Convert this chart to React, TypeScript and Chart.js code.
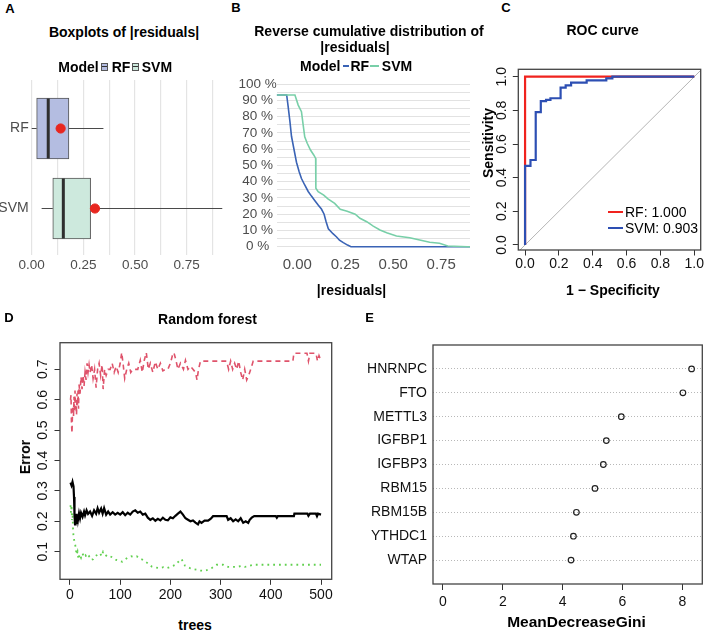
import React, { useEffect, useRef } from 'react';
import { Chart, registerables } from 'chart.js';

Chart.register(...registerables);

const FONT = '"Liberation Sans", Arial, Helvetica, sans-serif';

// ---------------- Panel A: boxplots of |residuals| ----------------
const boxModels = ['RF', 'SVM'];
const boxMin = [0.0, 0.048];
const boxQ1 = [0.024, 0.102];
const boxMedian = [0.08, 0.153];
const boxQ3 = [0.18, 0.285];
const boxMax = [0.347, 0.922];
const boxMean = [0.14, 0.306];
const boxFill = ['#b4bde1', '#cde9dd'];
const boxTickValues = [0, 0.125, 0.25, 0.375, 0.5, 0.625, 0.75, 0.875];

// ---------------- Panel B: reverse cumulative distribution ----------------
const ecdfRfX = [-0.107, -0.055, -0.047, -0.038, -0.03, -0.017, -0.004, 0.01, 0.022, 0.039, 0.057, 0.075, 0.091, 0.11, 0.126, 0.14, 0.15, 0.162, 0.186, 0.205, 0.22, 0.24, 0.262, 0.28, 0.9];
const ecdfRfY = [0.934, 0.934, 0.86, 0.77, 0.68, 0.6, 0.52, 0.462, 0.42, 0.38, 0.34, 0.31, 0.285, 0.255, 0.232, 0.2, 0.155, 0.11, 0.08, 0.06, 0.04, 0.025, 0.01, 0.0, 0.0];
const ecdfSvmX = [-0.107, -0.012, 0.005, 0.022, 0.031, 0.039, 0.052, 0.069, 0.086, 0.096, 0.097, 0.109, 0.138, 0.16, 0.195, 0.224, 0.26, 0.302, 0.327, 0.362, 0.396, 0.431, 0.466, 0.517, 0.586, 0.638, 0.69, 0.741, 0.784, 0.886, 0.9];
const ecdfSvmY = [0.934, 0.934, 0.872, 0.831, 0.749, 0.677, 0.637, 0.595, 0.565, 0.544, 0.36, 0.339, 0.318, 0.294, 0.267, 0.23, 0.218, 0.2, 0.175, 0.154, 0.127, 0.103, 0.086, 0.066, 0.055, 0.041, 0.027, 0.021, 0.004, 0.0, 0.0];
const pctTicks = [0, 0.05, 0.1, 0.15, 0.2, 0.25, 0.3, 0.35, 0.4, 0.45, 0.5, 0.55, 0.6, 0.65, 0.7, 0.75, 0.8, 0.85, 0.9, 0.95, 1.0];
const residTicks = [0, 0.25, 0.5, 0.75];

// ---------------- Panel C: ROC curve ----------------
const rocRfFpr = [0, 0, 1];
const rocRfTpr = [0, 1, 1];
const rocSvmFpr = [0, 0, 0.032, 0.063, 0.093, 0.124, 0.15, 0.21, 0.24, 0.272, 0.364, 0.48, 0.516, 0.728, 1];
const rocSvmTpr = [0, 0.115, 0.47, 0.505, 0.79, 0.855, 0.862, 0.872, 0.935, 0.948, 0.965, 0.978, 0.99, 1, 1];
const rocNames = ['RF', 'SVM'];
const rocAuc = [1.0, 0.903];
const rocColors = ['#f0231e', '#2d4fb3'];
const rocTicks = [0, 0.2, 0.4, 0.6, 0.8, 1.0];
const rocXRange = [-0.04, 1.038];
const rocYRange = [-0.03, 1.044];

// ---------------- Panel D: random forest error ----------------
const oobErr = [[1,0.327],[3,0.318],[5,0.33],[7,0.315],[8,0.28],[9,0.22],[10,0.19],[11,0.215],[12,0.198],[13,0.225],[14,0.195],[15,0.22],[16,0.205],[18,0.226],[20,0.21],[22,0.228],[25,0.215],[28,0.232],[30,0.22],[33,0.236],[36,0.224],[40,0.232],[44,0.218],[48,0.236],[52,0.225],[55,0.243],[58,0.228],[62,0.242],[65,0.225],[68,0.243],[72,0.222],[76,0.232],[80,0.222],[85,0.23],[90,0.222],[95,0.228],[100,0.222],[105,0.23],[110,0.22],[115,0.228],[120,0.222],[125,0.232],[130,0.236],[135,0.228],[140,0.232],[145,0.222],[150,0.225],[155,0.212],[160,0.205],[165,0.21],[170,0.202],[175,0.208],[180,0.203],[185,0.212],[190,0.205],[195,0.203],[200,0.213],[205,0.21],[210,0.218],[215,0.225],[220,0.232],[225,0.222],[230,0.21],[235,0.205],[240,0.2],[245,0.203],[250,0.196],[255,0.19],[258,0.2],[262,0.195],[268,0.202],[275,0.202],[280,0.208],[285,0.217],[312,0.217],[315,0.205],[320,0.21],[325,0.2],[330,0.206],[335,0.2],[340,0.21],[345,0.195],[350,0.2],[355,0.195],[358,0.205],[362,0.212],[367,0.217],[410,0.217],[412,0.212],[414,0.217],[446,0.217],[447,0.225],[473,0.225],[475,0.218],[478,0.225],[490,0.225],[492,0.217],[494,0.225],[500,0.222]];
const class1Err = [[1,0.6],[2,0.615],[3,0.52],[4,0.49],[5,0.56],[6,0.58],[7,0.545],[8,0.61],[9,0.56],[10,0.63],[11,0.57],[12,0.6],[13,0.55],[14,0.62],[15,0.58],[16,0.63],[17,0.57],[18,0.65],[20,0.62],[22,0.675],[24,0.635],[26,0.68],[28,0.645],[30,0.69],[32,0.665],[34,0.72],[36,0.69],[38,0.715],[40,0.69],[43,0.715],[46,0.67],[49,0.7],[52,0.64],[55,0.7],[58,0.72],[61,0.68],[64,0.715],[66,0.635],[69,0.7],[72,0.68],[76,0.7],[80,0.7],[84,0.72],[88,0.69],[92,0.71],[96,0.69],[100,0.72],[103,0.755],[106,0.715],[109,0.67],[113,0.7],[117,0.72],[121,0.69],[125,0.7],[130,0.7],[135,0.7],[140,0.73],[144,0.69],[148,0.73],[152,0.755],[156,0.7],[160,0.72],[165,0.69],[170,0.725],[175,0.7],[180,0.72],[185,0.695],[190,0.7],[195,0.7],[200,0.72],[204,0.745],[207,0.755],[211,0.73],[215,0.7],[220,0.72],[226,0.7],[230,0.73],[235,0.7],[240,0.71],[245,0.7],[250,0.69],[253,0.665],[256,0.7],[260,0.727],[312,0.727],[316,0.7],[320,0.727],[324,0.7],[328,0.72],[332,0.7],[336,0.727],[340,0.69],[344,0.665],[348,0.7],[352,0.665],[356,0.68],[360,0.7],[365,0.727],[444,0.727],[446,0.753],[472,0.753],[475,0.727],[478,0.753],[490,0.753],[493,0.727],[496,0.745],[500,0.727]];
const class0Err = [[1,0.253],[2,0.228],[3,0.253],[4,0.204],[5,0.228],[6,0.177],[7,0.15],[8,0.14],[10,0.127],[12,0.105],[13,0.09],[15,0.1],[17,0.075],[19,0.092],[22,0.08],[25,0.094],[28,0.082],[31,0.088],[34,0.078],[38,0.085],[42,0.073],[46,0.075],[50,0.085],[55,0.09],[60,0.095],[63,0.085],[66,0.1],[70,0.09],[75,0.083],[80,0.085],[86,0.08],[92,0.073],[98,0.07],[104,0.067],[110,0.075],[116,0.082],[122,0.085],[128,0.083],[133,0.085],[138,0.078],[143,0.075],[148,0.07],[153,0.064],[158,0.058],[163,0.051],[170,0.048],[178,0.046],[186,0.049],[193,0.046],[200,0.05],[206,0.054],[211,0.058],[216,0.067],[222,0.076],[226,0.065],[229,0.054],[234,0.05],[239,0.046],[245,0.043],[252,0.041],[260,0.038],[266,0.037],[272,0.039],[277,0.043],[282,0.046],[287,0.052],[292,0.057],[305,0.057],[310,0.053],[315,0.05],[332,0.05],[342,0.053],[348,0.05],[352,0.051],[358,0.054],[365,0.057],[500,0.057]];
const treeTicks = [0, 100, 200, 300, 400, 500];
const errTicks = [0.1, 0.2, 0.3, 0.4, 0.5, 0.6, 0.7];

// ---------------- Panel E: variable importance ----------------
const genes = ['HNRNPC', 'FTO', 'METTL3', 'IGFBP1', 'IGFBP3', 'RBM15', 'RBM15B', 'YTHDC1', 'WTAP'];
const gini = [8.31, 8.02, 5.96, 5.46, 5.36, 5.08, 4.46, 4.36, 4.28];
const giniTicks = [0, 2, 4, 6, 8];

// ---------------- layout helpers ----------------
type Rect = { left: number; top: number; width: number; height: number };
type Plot = { l: number; t: number; r: number; b: number };

function frameLayout(c: Rect, p: Plot) {
  return {
    padding: { left: 0, top: p.t - c.top, right: c.left + c.width - p.r, bottom: 0 },
    yWidth: p.l - c.left,
    xHeight: c.top + c.height - p.b,
  };
}

const boxFrame = {
  id: 'boxFrame',
  afterDatasetsDraw(chart: any, _args: any, opts: any) {
    if (!opts || !opts.color) return;
    const { ctx, chartArea: a } = chart;
    ctx.save();
    ctx.strokeStyle = opts.color;
    ctx.lineWidth = opts.width || 1;
    ctx.strokeRect(a.left, a.top, a.right - a.left, a.bottom - a.top);
    ctx.restore();
  },
};

function baseOptions(c: Rect, p: Plot, xs: any, ys: any, frameColor?: string) {
  const f = frameLayout(c, p);
  return {
    responsive: false,
    animation: false,
    devicePixelRatio: 1,
    events: [],
    layout: { padding: f.padding, autoPadding: false },
    plugins: {
      legend: { display: false },
      tooltip: { enabled: false },
      title: { display: false },
      boxFrame: frameColor ? { color: frameColor, width: 1.3 } : {},
    },
    scales: {
      x: { type: 'linear', bounds: 'data', offset: false, beginAtZero: false, ...xs, afterFit: (s: any) => { s.height = f.xHeight; } },
      y: { type: 'linear', bounds: 'data', offset: false, beginAtZero: false, ...ys, afterFit: (s: any) => { s.width = f.yWidth; } },
    },
  };
}

const setTicks = (vals: number[]) => (s: any) => { s.ticks = vals.map((v) => ({ value: v })); };
const tickFont = (size: number) => ({ family: FONT, size });

// vertical (R-style, parallel to axis) tick labels: rotated text centred on each tick
function rotatedYTicks(labelCentreGap: number, labelLen: number, tickLen: number, extra: any) {
  return {
    autoSkip: false, minRotation: 90, maxRotation: 90, crossAlign: 'near',
    padding: labelCentreGap - tickLen, labelOffset: -labelLen / 2, ...extra,
  };
}

function ChartCanvas({ rect, make }: { rect: Rect; make: () => any }) {
  const ref = useRef<HTMLCanvasElement>(null);
  useEffect(() => {
    const chart = new Chart(ref.current as HTMLCanvasElement, make());
    return () => chart.destroy();
  }, []);
  return (
    <canvas
      ref={ref}
      width={rect.width}
      height={rect.height}
      style={{ position: 'absolute', left: rect.left, top: rect.top, width: rect.width, height: rect.height }}
    />
  );
}

function Txt({ x, y, size = 14, bold = true, rotate = false, children }: any) {
  return (
    <div
      style={{
        position: 'absolute', left: x, top: y,
        transform: `translate(-50%,-50%)${rotate ? ' rotate(-90deg)' : ''}`,
        fontFamily: FONT, fontSize: size, fontWeight: bold ? 700 : 400,
        lineHeight: 1, whiteSpace: 'nowrap', color: '#000', pointerEvents: 'none',
      }}
    >
      {children}
    </div>
  );
}

// ---------------- chart configs ----------------
const rectA: Rect = { left: 0, top: 60, width: 236, height: 220 };
const plotA: Plot = { l: 29.7, t: 80, r: 232.6, b: 255 };
function makeA() {
  const yPos = (i: number) => i + 1;
  const whiskers = boxModels.flatMap((_, i) => [
    { type: 'scatter', showLine: true, data: [{ x: boxMin[i], y: yPos(i) }, { x: boxQ1[i], y: yPos(i) }], borderColor: '#4a4a4a', borderWidth: 1.2, pointRadius: 0 },
    { type: 'scatter', showLine: true, data: [{ x: boxQ3[i], y: yPos(i) }, { x: boxMax[i], y: yPos(i) }], borderColor: '#4a4a4a', borderWidth: 1.2, pointRadius: 0 },
  ]);
  return {
    type: 'scatter',
    data: {
      datasets: [
        { type: 'scatter', data: boxModels.map((_, i) => ({ x: boxMean[i], y: yPos(i) })), pointRadius: 4.6, pointBackgroundColor: '#e8261f', pointBorderColor: '#e8261f', pointBorderWidth: 1 },
        { type: 'scatter', data: boxModels.map((_, i) => ({ x: boxMedian[i], y: yPos(i) })), pointStyle: 'line', pointRotation: 90, pointRadius: 30, pointBorderColor: '#2e2e2e', pointBorderWidth: 3 },
        ...whiskers,
        { type: 'bar', indexAxis: 'y', data: boxModels.map((_, i) => ({ x: [boxQ1[i], boxQ3[i]], y: yPos(i) })), backgroundColor: boxFill, borderColor: '#555', borderWidth: 1, borderSkipped: false, barThickness: 61 },
      ],
    },
    options: baseOptions(rectA, plotA,
      {
        min: -0.0097, max: 0.972,
        afterBuildTicks: setTicks(boxTickValues),
        grid: { display: true, offset: false, color: '#e4e4e4', lineWidth: 1.2, drawTicks: false, tickLength: 0 },
        border: { display: false },
        ticks: { autoSkip: false, maxRotation: 0, padding: 2, color: '#4d4d4d', font: tickFont(13.5),
          callback: (v: number) => (Math.abs(v * 4 - Math.round(v * 4)) < 1e-9 ? v.toFixed(2) : '') },
      },
      {
        reverse: true, min: 0.394, max: 2.581,
        afterBuildTicks: setTicks(boxModels.map((_, i) => i + 1)),
        grid: { display: false, offset: false, drawTicks: false, tickLength: 0 },
        border: { display: false },
        ticks: { autoSkip: false, padding: 1, color: '#4d4d4d', font: tickFont(14),
          callback: (v: number) => boxModels[Math.round(v) - 1] ?? '' },
      }),
  };
}

const rectB: Rect = { left: 230, top: 65, width: 245, height: 215 };
const plotB: Plot = { l: 276.7, t: 82.7, r: 470, b: 250 };
function makeB() {
  return {
    type: 'scatter',
    data: {
      datasets: [
        { data: ecdfSvmX.map((x, i) => ({ x, y: ecdfSvmY[i] })), showLine: true, borderColor: '#78cfa8', borderWidth: 1.6, pointRadius: 0 },
        { data: ecdfRfX.map((x, i) => ({ x, y: ecdfRfY[i] })), showLine: true, borderColor: '#3a63b5', borderWidth: 1.6, pointRadius: 0 },
      ],
    },
    options: baseOptions(rectB, plotB,
      {
        min: -0.107, max: 0.9,
        afterBuildTicks: setTicks(residTicks),
        grid: { display: false, drawTicks: false, tickLength: 0 },
        border: { display: false },
        ticks: { autoSkip: false, maxRotation: 0, padding: 6, color: '#4d4d4d', font: tickFont(15), callback: (v: number) => v.toFixed(2) },
      },
      {
        min: -0.0203, max: 1.0098,
        afterBuildTicks: setTicks(pctTicks),
        grid: { display: true, color: '#e2e2e2', lineWidth: 1.1, drawTicks: false, tickLength: 0 },
        border: { display: false },
        ticks: { autoSkip: false, padding: 0, crossAlign: 'center', color: '#4d4d4d', font: tickFont(13.5),
          callback: (v: number) => { const p = Math.round(v * 100); return p % 10 === 0 ? `${p} %` : ''; } },
      }),
  };
}

const rectC: Rect = { left: 475, top: 45, width: 233, height: 255 };
const plotC: Plot = { l: 518.3, t: 69.3, r: 700.7, b: 250 };
function makeC() {
  const lo = Math.min(rocXRange[0], rocYRange[0]);
  const hi = Math.max(rocXRange[1], rocYRange[1]);
  return {
    type: 'scatter',
    plugins: [boxFrame],
    data: {
      datasets: [
        { data: rocSvmFpr.map((x, i) => ({ x, y: rocSvmTpr[i] })), showLine: true, stepped: 'after', borderColor: rocColors[1], borderWidth: 2.2, pointRadius: 0 },
        { data: rocRfFpr.map((x, i) => ({ x, y: rocRfTpr[i] })), showLine: true, borderColor: rocColors[0], borderWidth: 2.2, pointRadius: 0 },
        { data: [{ x: lo, y: lo }, { x: hi, y: hi }], showLine: true, borderColor: '#b5b5b5', borderWidth: 1, pointRadius: 0 },
      ],
    },
    options: baseOptions(rectC, plotC,
      {
        min: rocXRange[0], max: rocXRange[1],
        afterBuildTicks: setTicks(rocTicks),
        grid: { display: true, drawOnChartArea: false, drawTicks: true, tickLength: 5.5, color: '#333', lineWidth: 1 },
        border: { display: false },
        ticks: { autoSkip: false, maxRotation: 0, padding: 0, color: '#111', font: tickFont(14), callback: (v: number) => v.toFixed(1) },
      },
      {
        min: rocYRange[0], max: rocYRange[1],
        afterBuildTicks: setTicks(rocTicks),
        grid: { display: true, drawOnChartArea: false, drawTicks: true, tickLength: 5.5, color: '#333', lineWidth: 1 },
        border: { display: false },
        ticks: rotatedYTicks(16.3, 19.5, 5.5, { color: '#111', font: tickFont(14), callback: (v: number) => v.toFixed(1) }),
      }, '#444'),
  };
}

const rectD: Rect = { left: 0, top: 300, width: 345, height: 310 };
const plotD: Plot = { l: 60, t: 342.7, r: 331.7, b: 579.3 };
function makeD() {
  const toPts = (arr: number[][]) => arr.map(([x, y]) => ({ x, y }));
  return {
    type: 'scatter',
    plugins: [boxFrame],
    data: {
      datasets: [
        { data: toPts(oobErr), showLine: true, borderColor: '#000', borderWidth: 2.2, pointRadius: 0 },
        { data: toPts(class1Err), showLine: true, borderColor: '#DF536B', borderWidth: 1.6, borderDash: [5, 4], pointRadius: 0 },
        { data: toPts(class0Err), showLine: true, borderColor: '#61D04F', borderWidth: 1.8, borderDash: [1.8, 4], pointRadius: 0 },
      ],
    },
    options: baseOptions(rectD, plotD,
      {
        min: -19.9, max: 521.3,
        afterBuildTicks: setTicks(treeTicks),
        grid: { display: true, drawOnChartArea: false, drawTicks: true, tickLength: 5.5, color: '#333', lineWidth: 1 },
        border: { display: false },
        ticks: { autoSkip: false, maxRotation: 0, padding: 1.8, color: '#111', font: tickFont(14), callback: (v: number) => String(v) },
      },
      {
        min: 0.0092, max: 0.7876,
        afterBuildTicks: setTicks(errTicks),
        grid: { display: true, drawOnChartArea: false, drawTicks: true, tickLength: 5.5, color: '#333', lineWidth: 1 },
        border: { display: false },
        ticks: rotatedYTicks(16.7, 19.5, 5.5, { color: '#111', font: tickFont(14), callback: (v: number) => v.toFixed(1) }),
      }, '#444'),
  };
}

const rectE: Rect = { left: 354, top: 300, width: 354, height: 331 };
const plotE: Plot = { l: 433, t: 345, r: 702.3, b: 584 };
function makeE() {
  return {
    type: 'scatter',
    plugins: [boxFrame],
    data: {
      datasets: [
        { data: genes.map((_, i) => ({ x: gini[i], y: i + 1 })), pointRadius: 2.8, pointBorderWidth: 1.2, pointBorderColor: '#222', pointBackgroundColor: 'rgba(0,0,0,0)' },
      ],
    },
    options: baseOptions(rectE, plotE,
      {
        min: -0.334, max: 8.668,
        afterBuildTicks: setTicks(giniTicks),
        grid: { display: true, drawOnChartArea: false, drawTicks: true, tickLength: 6, color: '#333', lineWidth: 1 },
        border: { display: false },
        ticks: { autoSkip: false, maxRotation: 0, padding: 4, color: '#111', font: tickFont(14), callback: (v: number) => String(v) },
      },
      {
        reverse: true, min: 0, max: 10,
        afterBuildTicks: setTicks(genes.map((_, i) => i + 1)),
        grid: { display: true, drawTicks: false, tickLength: 0, color: '#b8b8b8', lineWidth: 1 },
        border: { display: false, dash: [1, 2] },
        ticks: { autoSkip: false, padding: 6, color: '#111', font: tickFont(14), callback: (v: number) => genes[Math.round(v) - 1] ?? '' },
      }, '#444'),
  };
}

function BoxKey({ fill }: { fill: string }) {
  return (
    <span style={{ display: 'inline-block', position: 'relative', width: 5, height: 6, background: fill, border: '1px solid #555' }}>
      <span style={{ position: 'absolute', left: 0, right: 0, top: 2.5, height: 1, background: '#333' }} />
    </span>
  );
}

export default function App() {
  return (
    <div style={{ position: 'absolute', left: 0, top: 0, width: 708, height: 631, background: '#fff', overflow: 'hidden' }}>
      <ChartCanvas rect={rectA} make={makeA} />
      <ChartCanvas rect={rectB} make={makeB} />
      <ChartCanvas rect={rectC} make={makeC} />
      <ChartCanvas rect={rectD} make={makeD} />
      <ChartCanvas rect={rectE} make={makeE} />

      {/* panel letters */}
      <Txt x={10} y={7.5} size={13}>A</Txt>
      <Txt x={236} y={7} size={13}>B</Txt>
      <Txt x={506} y={7} size={13}>C</Txt>
      <Txt x={9} y={316.7} size={13}>D</Txt>
      <Txt x={369.5} y={316.7} size={13}>E</Txt>

      {/* A */}
      <Txt x={124} y={31.7}>Boxplots of |residuals|</Txt>
      <div style={{ position: 'absolute', left: 58.3, top: 66.7, transform: 'translateY(-50%)', display: 'flex', alignItems: 'center', fontFamily: FONT, fontWeight: 700, fontSize: 14, lineHeight: 1, whiteSpace: 'nowrap' }}>
        <span>Model</span>
        <span style={{ marginLeft: 2, marginRight: 4, display: 'inline-flex' }}><BoxKey fill={boxFill[0]} /></span>
        <span>{boxModels[0]}</span>
        <span style={{ marginLeft: 1.3, marginRight: 3, display: 'inline-flex' }}><BoxKey fill={boxFill[1]} /></span>
        <span>{boxModels[1]}</span>
      </div>

      {/* B */}
      <Txt x={369} y={30.7}>Reverse cumulative distribution of</Txt>
      <Txt x={355} y={46.7}>|residuals|</Txt>
      <div style={{ position: 'absolute', left: 300, top: 66, transform: 'translateY(-50%)', display: 'flex', alignItems: 'center', fontFamily: FONT, fontWeight: 700, fontSize: 14, lineHeight: 1, whiteSpace: 'nowrap' }}>
        <span>Model</span>
        <span style={{ display: 'inline-block', width: 6, height: 2, background: '#3a63b5', marginLeft: 3, marginRight: 1 }} />
        <span>RF</span>
        <span style={{ display: 'inline-block', width: 9.3, height: 2, background: '#78cfa8', marginLeft: 1, marginRight: 2.4 }} />
        <span>SVM</span>
      </div>
      <Txt x={351.5} y={290}>|residuals|</Txt>

      {/* C */}
      <Txt x={602.7} y={30}>ROC curve</Txt>
      <Txt x={613} y={290}>1 − Specificity</Txt>
      <Txt x={488.3} y={142.5} rotate>Sensitivity</Txt>
      {rocNames.map((n, i) => (
        <div key={n} style={{ position: 'absolute', left: 608, top: [211.7, 228.3][i], transform: 'translateY(-50%)', display: 'flex', alignItems: 'center', fontFamily: FONT, fontSize: 14, lineHeight: 1, whiteSpace: 'nowrap' }}>
          <span style={{ display: 'inline-block', width: 15, height: 2, background: rocColors[i], marginRight: 2 }} />
          <span>{`${n}: ${rocAuc[i].toFixed(3)}`}</span>
        </div>
      ))}

      {/* D */}
      <Txt x={207.5} y={319.3}>Random forest</Txt>
      <Txt x={195} y={625}>trees</Txt>
      <Txt x={25} y={457} rotate>Error</Txt>

      {/* E */}
      <Txt x={576.5} y={621.7} size={15.5}>MeanDecreaseGini</Txt>
    </div>
  );
}
